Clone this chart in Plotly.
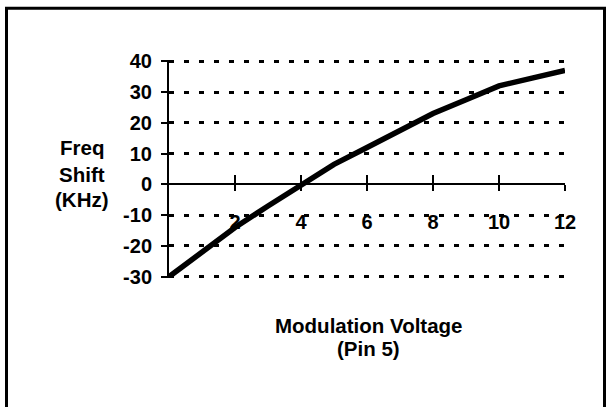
import plotly.graph_objects as go

# Data
voltage = [0, 1, 2, 3, 4, 5, 6, 7, 8, 9, 10, 11, 12]
freq_shift = [-30, -22, -14, -7, 0, 6.5, 12, 17.5, 23, 27.5, 32, 34.5, 37]

x_tick_vals = [2, 4, 6, 8, 10, 12]
x_tick_text = ["2", "4", "6", "8", "10", "12"]
y_tick_vals = [-30, -20, -10, 0, 10, 20, 30, 40]
y_tick_text = ["-30", "-20", "-10", "0", "10", "20", "30", "40"]

y_title_lines = ["Freq", "Shift", "(KHz)"]
x_title_lines = ["Modulation Voltage", "(Pin 5)"]

FONT = "Arial, 'Liberation Sans', Helvetica, sans-serif"
Y_RANGE = [-30.4, 40.4]
H_PLOT = 218.0          # plot-area height in px (407 - t - b)
B_PX = 278.0            # bottom of plot area in px from top

def ypaper(px):
    return (B_PX - px) / H_PLOT

fig = go.Figure()
fig.add_trace(go.Scatter(
    x=voltage, y=freq_shift, mode="lines",
    line=dict(color="black", width=5.5),
    showlegend=False, hoverinfo="skip",
))
# helper trace for the upward half of the crossing x ticks
fig.add_trace(go.Scatter(x=[voltage[0]], y=[freq_shift[0]], xaxis="x2",
                         mode="markers", marker=dict(opacity=0),
                         showlegend=False, hoverinfo="skip"))

tickfont = dict(family=FONT, size=20, color="black", weight="bold")
titlefont = dict(family=FONT, size=20.5, color="black", weight="bold")

zero_pos = (0 - Y_RANGE[0]) / (Y_RANGE[1] - Y_RANGE[0])

annotations = []
for txt, ypx in zip(y_title_lines, [147.5, 174, 200]):
    annotations.append(dict(text=txt, xref="paper", yref="paper",
                            x=(82 - 169) / 396, y=ypaper(ypx),
                            xanchor="center", yanchor="middle",
                            showarrow=False, font=titlefont))
for txt, ypx in zip(x_title_lines, [325.5, 348]):
    annotations.append(dict(text=txt, xref="paper", yref="paper",
                            x=(368.5 - 169) / 396, y=ypaper(ypx),
                            xanchor="center", yanchor="middle",
                            showarrow=False, font=titlefont))

fig.update_layout(
    width=611, height=407,
    margin=dict(l=169, r=46, t=60, b=129),
    paper_bgcolor="white", plot_bgcolor="white",
    xaxis=dict(
        range=[0, 12], anchor="free", position=zero_pos,
        tickvals=x_tick_vals, ticktext=x_tick_text,
        ticks="outside", ticklen=6, tickwidth=1.5, tickcolor="black",
        ticklabelstandoff=14,
        showline=False, showgrid=False, zeroline=False,
        tickfont=tickfont,
    ),
    xaxis2=dict(
        range=[0, 12], overlaying="x", anchor="free", position=zero_pos,
        tickvals=x_tick_vals, showticklabels=False,
        ticks="inside", ticklen=9, tickwidth=1.5, tickcolor="black",
        showline=False, showgrid=False, zeroline=False,
    ),
    yaxis=dict(
        range=Y_RANGE,
        tickvals=y_tick_vals, ticktext=y_tick_text,
        ticks="outside", ticklen=6, tickwidth=2, tickcolor="black",
        ticklabelstandoff=5,
        showline=True, linecolor="black", linewidth=2,
        showgrid=True, gridcolor="black", gridwidth=2.5, griddash="5px,10px",
        zeroline=True, zerolinecolor="black", zerolinewidth=1.5,
        tickfont=tickfont,
    ),
    annotations=annotations,
    shapes=[
        dict(type="rect", xref="paper", yref="paper",
             x0=(6.5 - 169) / 396, x1=(604.5 - 169) / 396,
             y0=ypaper(450), y1=ypaper(8.2),
             line=dict(color="black", width=3), fillcolor="rgba(0,0,0,0)",
             layer="below"),
    ],
)

fig.write_html("out.html", config={"displayModeBar": False},
               post_script="document.body.style.margin='0';")
